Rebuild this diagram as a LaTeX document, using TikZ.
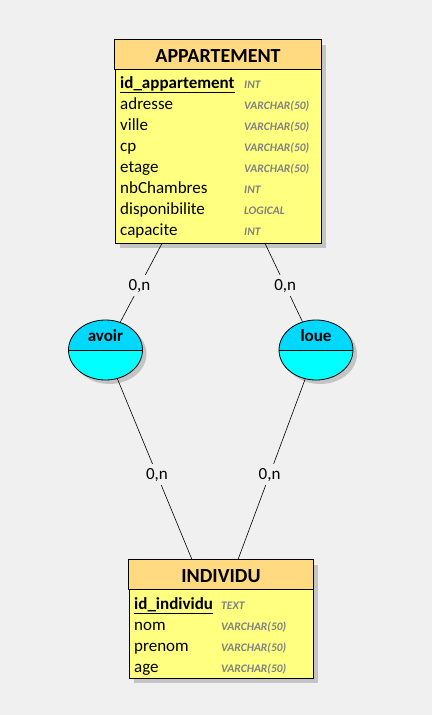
\documentclass[tikz,border=0pt]{standalone}
\usepackage{fontspec}
\setmainfont{Carlito}
\usetikzlibrary{shapes.geometric,shadows}
\definecolor{fond}{RGB}{240,240,240}
\definecolor{entete}{RGB}{255,218,128}
\definecolor{corps}{RGB}{255,255,128}
\definecolor{ombre}{RGB}{196,196,196}
\definecolor{cyanhaut}{RGB}{0,216,255}
\definecolor{cyanbas}{RGB}{0,255,255}
\definecolor{typegris}{RGB}{128,128,128}
\tikzset{
  entite/.style={draw, fill=corps, inner sep=0pt, line width=0.8pt,
    drop shadow={shadow xshift=5pt, shadow yshift=-5pt, fill=ombre, opacity=1}},
  association/.style={ellipse, draw, fill=cyanbas, inner sep=0pt, line width=0.8pt,
    minimum width=74pt, minimum height=60pt,
    path picture={\fill[cyanhaut] (path picture bounding box.north west) rectangle (path picture bounding box.east);}},
  champ/.style={anchor=west, inner sep=0pt, text height=14pt, text depth=2pt, font=\fontsize{17}{17}\selectfont},
  typechamp/.style={champ, text=typegris, font=\fontsize{11.5}{11.5}\selectfont\bfseries\itshape},
  titre/.style={font=\fontsize{20}{20}\selectfont\bfseries},
  card/.style={fill=fond, inner sep=4pt, font=\fontsize{17}{17}\selectfont},
}

\begin{document}
\begin{tikzpicture}[x=1pt,y=-1pt]
\useasboundingbox[fill=fond] (0,0) rectangle (432,715);

% APPARTEMENT
\node[entite, minimum width=206pt, minimum height=203pt] (appartement) at (218,141.5) {};
\draw[fill=entete, line width=0.8pt] (appartement.north west) rectangle ([yshift=-30pt]appartement.north east);
\node[titre] (titreapp) at ([yshift=-16pt]appartement.north) {APPARTEMENT};
\node[champ, font=\fontsize{17}{17}\selectfont\bfseries] (idapp) at (120,82) {id\_appartement};
\draw[line width=1.2pt] ([yshift=-2pt]idapp.south west) -- ([yshift=-2pt]idapp.south east);
\node[typechamp] (tidapp) at (244,82) {INT};
\foreach \nom/\typ [count=\i] in {adresse/VARCHAR(50), ville/VARCHAR(50), cp/VARCHAR(50), etage/VARCHAR(50), nbChambres/INT, disponibilite/LOGICAL, capacite/INT} {
  \node[champ] (app-\i) at (120,82+21*\i) {\nom};
  \node[typechamp] (tapp-\i) at (244,82+21*\i) {\typ};
}

% INDIVIDU
\node[entite, minimum width=184pt, minimum height=118pt] (individu) at (221,619) {};
\draw[fill=entete, line width=0.8pt] (individu.north west) rectangle ([yshift=-30pt]individu.north east);
\node[titre] (titreind) at ([yshift=-16pt]individu.north) {INDIVIDU};
\node[champ, font=\fontsize{17}{17}\selectfont\bfseries] (idind) at (134,603) {id\_individu};
\draw[line width=1.2pt] ([yshift=-2pt]idind.south west) -- ([yshift=-2pt]idind.south east);
\node[typechamp] (tidind) at (221,603) {TEXT};
\foreach \nom/\typ [count=\i] in {nom/VARCHAR(50), prenom/VARCHAR(50), age/VARCHAR(50)} {
  \node[champ] (ind-\i) at (134,603+21*\i) {\nom};
  \node[typechamp] (tind-\i) at (221,603+21*\i) {\typ};
}

% associations
\fill[ombre] (109.5,354) ellipse (37pt and 30pt);
\fill[ombre] (320,354) ellipse (37pt and 30pt);
\node[association] (avoir) at (105.5,350) {};
\node[association] (loue) at (316,350) {};
\draw[line width=0.8pt] (avoir.west) -- (avoir.east);
\draw[line width=0.8pt] (loue.west) -- (loue.east);
\node[titre, font=\fontsize{17}{17}\selectfont\bfseries] (tavoir) at ([yshift=14pt]avoir.center) {avoir};
\node[titre, font=\fontsize{17}{17}\selectfont\bfseries] (tloue) at ([yshift=14pt]loue.center) {loue};

\coordinate (a1) at ([xshift=-56pt]appartement.south);
\coordinate (a2) at ([xshift=47pt]appartement.south);
\coordinate (i1) at ([xshift=-29pt]individu.north);
\coordinate (i2) at ([xshift=17pt]individu.north);

\draw[line width=0.6pt] (a1) -- node[card, pos=0.54] (c1) {0,n} (avoir);
\draw[line width=0.6pt] (a2) -- node[card, pos=0.54] (c2) {0,n} (loue);
\draw[line width=0.6pt] (avoir) -- node[card, pos=0.53] (c3) {0,n} (i1);
\draw[line width=0.6pt] (loue) -- node[card, pos=0.53] (c4) {0,n} (i2);
\end{tikzpicture}
\end{document}
